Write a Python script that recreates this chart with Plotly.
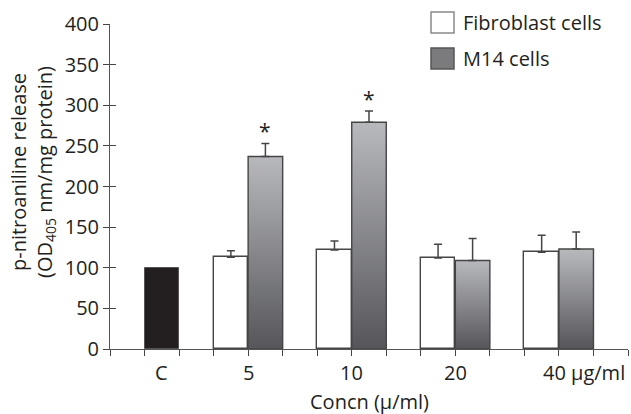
import plotly.graph_objects as go

# ---- data ----
categories = ["C", "5", "10", "20", "40 µg/ml"]
control_value = 100
fibro_values = [113, 122, 112, 119]
fibro_err = [8, 11, 17, 21]
m14_values = [237, 279, 109, 123]
m14_err = [16, 14, 27, 21]
significant = [True, True, False, False]
y_ticks = [0, 50, 100, 150, 200, 250, 300, 350, 400]

# ---- layout helpers (axis units = one bar width) ----
group_pos = [1.5, 4, 7, 10, 13]
conc_pos = group_pos[1:]
fibro_x = [p - 0.5 for p in conc_pos]
m14_x = [p + 0.5 for p in conc_pos]

INK = "#231f20"
EDGE = "#454545"
FONT = "Open Sans"
FS = 20

fig = go.Figure()

# control bar
fig.add_trace(go.Bar(x=[group_pos[0]], y=[control_value], width=1,
                     marker=dict(color=INK, line=dict(color="#555", width=1)),
                     showlegend=False, hoverinfo="skip"))
# fibroblast bars
fig.add_trace(go.Bar(x=fibro_x, y=fibro_values, width=1,
                     marker=dict(color="white", line=dict(color=EDGE, width=1.4)),
                     showlegend=False, hoverinfo="skip"))
# M14 bars with vertical gradient
for xc, v in zip(m14_x, m14_values):
    fig.add_trace(go.Scatter(
        x=[xc - 0.5, xc + 0.5, xc + 0.5, xc - 0.5, xc - 0.5],
        y=[0, 0, v, v, 0],
        mode="lines", fill="toself",
        line=dict(color=EDGE, width=1.4),
        fillgradient=dict(type="vertical", start=0, stop=v,
                          colorscale=[[0, "#56565a"], [1, "#b8b9bd"]]),
        showlegend=False, hoverinfo="skip"))

# error bars (upper only)
errstyle = dict(type="data", symmetric=False, color=EDGE, thickness=1.5, width=4)
fig.add_trace(go.Scatter(x=fibro_x, y=fibro_values, mode="markers",
                         marker=dict(size=1, opacity=0),
                         error_y=dict(array=fibro_err, arrayminus=[0] * 4, **errstyle),
                         showlegend=False, hoverinfo="skip"))
fig.add_trace(go.Scatter(x=m14_x, y=m14_values, mode="markers",
                         marker=dict(size=1, opacity=0),
                         error_y=dict(array=m14_err, arrayminus=[0] * 4, **errstyle),
                         showlegend=False, hoverinfo="skip"))

annotations = []
# significance stars
for xc, v, e, s in zip(m14_x, m14_values, m14_err, significant):
    if s:
        annotations.append(dict(x=xc, y=v + e, xref="x", yref="y", text="*",
                                showarrow=False, yanchor="bottom", yshift=-4,
                                font=dict(size=21, color=INK, family=FONT)))
# category labels
for i, (p, c) in enumerate(zip(group_pos, categories)):
    last = i == len(categories) - 1
    annotations.append(dict(x=p, y=0, xref="x", yref="paper", text=c,
                            showarrow=False, yanchor="middle", yshift=-23,
                            xanchor="left" if last else "center",
                            xshift=-18 if last else 0,
                            font=dict(size=FS, color=INK, family=FONT)))
# axis titles
annotations.append(dict(x=0.5, y=0, xref="paper", yref="paper", text="Concn (µ/ml)",
                        showarrow=False, yanchor="middle", yshift=-52,
                        font=dict(size=FS, color=INK, family=FONT)))
annotations.append(dict(x=-0.1486, y=0.545, xref="paper", yref="paper",
                        text="p-nitroaniline release<br>(OD<sub>405</sub> nm/mg protein)",
                        showarrow=False, textangle=-90, xanchor="center", yanchor="middle",
                        font=dict(size=FS, color=INK, family=FONT)))
# legend
legend_items = [("Fibroblast cells", "white", "#8a8a8a", 1.0046),
                ("M14 cells", "#7b7b7e", "#555", 0.8938)]
shapes = []
for label, fill, edge, yc in legend_items:
    shapes.append(dict(type="rect", xref="paper", yref="paper",
                       x0=0.6197, x1=0.6641, y0=yc - 0.0323, y1=yc + 0.0323,
                       fillcolor=fill, line=dict(color=edge, width=1.5)))
    annotations.append(dict(x=0.6776, y=yc, xref="paper", yref="paper", text=label,
                            showarrow=False, xanchor="left", yanchor="middle",
                            font=dict(size=FS, color=INK, family=FONT)))

fig.update_layout(
    width=631, height=414,
    margin=dict(l=110, r=3, t=24, b=65),
    paper_bgcolor="white", plot_bgcolor="white",
    barmode="overlay", bargap=0,
    font=dict(family=FONT, size=FS, color=INK),
    annotations=annotations, shapes=shapes,
    xaxis=dict(range=[0, 15], tickvals=list(range(0, 16)), showticklabels=False,
               ticks="outside", ticklen=6, tickcolor=EDGE, tickwidth=1,
               showline=True, linecolor="#555", linewidth=1,
               showgrid=False, zeroline=False, fixedrange=True),
    yaxis=dict(range=[0, 400], tickvals=y_ticks, ticks="outside", ticklen=6,
               tickcolor=EDGE, tickwidth=1, showline=True, linecolor="#555",
               linewidth=1, showgrid=False, zeroline=False,
               tickfont=dict(size=FS, color=INK, family=FONT)),
    yaxis2=dict(range=[0, 400], overlaying="y", tickvals=y_ticks, ticks="inside",
                ticklen=6, tickcolor=EDGE, tickwidth=1, showticklabels=False,
                showline=False, showgrid=False, zeroline=False, side="left"),
)
# dummy trace to activate the inner-tick axis
fig.add_trace(go.Scatter(x=[None], y=[None], yaxis="y2", showlegend=False))

fig.write_html("out.html")
